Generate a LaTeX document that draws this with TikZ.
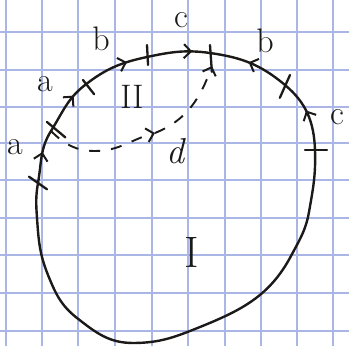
\documentclass[tikz,border=0pt]{standalone}
\usetikzlibrary{arrows.meta,decorations.markings}
\definecolor{ink}{HTML}{1C1A18}
\definecolor{gridblue}{HTML}{A9B6E6}
\tikzset{
  chev/.tip={Straight Barb[length=7pt,width=14pt,line width=2pt]},
  curve/.style={ink, line width=2.4pt, line cap=round},
  tickmark/.style={ink, line width=2.3pt, line cap=round},
  dashline/.style={ink, line width=1.9pt, dash pattern=on 11pt off 11pt},
  gridline/.style={gridblue, line width=1.2pt},
  lbl/.style={text=ink, inner sep=0pt, font=\fontsize{34}{34}\selectfont},
  fwd/.style={postaction={decorate}, decoration={markings, mark=at position #1 with {\arrow{chev}}}},
  bwd/.style={postaction={decorate}, decoration={markings, mark=at position #1 with {\arrowreversed{chev}}}},
}
\begin{document}
\begin{tikzpicture}[x=1pt,y=1pt]
\useasboundingbox (0,0) rectangle (349,346);
\fill[white] (0,0) rectangle (349,346);
% grid paper
\foreach \gx in {6,42,78,115,152,188,225,261,297,333}
  \draw[gridline] (\gx,0) -- (\gx,346);
\foreach \gy in {15,53,91,128,166,203,239,276,314}
  \draw[gridline] (0,\gy) -- (349,\gy);
% cut points
\coordinate (T0) at (38,163);
\coordinate (T1) at (51,215);
\coordinate (T2) at (85,261);
\coordinate (T3) at (147,289);
\coordinate (T4) at (210,293);
\coordinate (T5) at (285,261);
\coordinate (T6) at (315,196);
% lower boundary points
\coordinate (B1) at (309,134);
\coordinate (B2) at (291,90);
\coordinate (B4) at (200,19);
\coordinate (B5) at (133,3);
\coordinate (B6) at (77,28);
\coordinate (B7) at (48,71);
\coordinate (B8) at (37,128);
% dashed path points
\coordinate (D1) at (95,195);
\coordinate (D2) at (155,213);
\coordinate (D3) at (212,280);
% boundary
\draw[curve, fwd=0.58] (T0) to[out=80,in=238] (T1);
\draw[curve, fwd=0.73] (T1) to[out=58,in=218] (T2);
\draw[curve, fwd=0.70] (T2) to[out=38,in=192] (T3);
\draw[curve, fwd=0.72] (T3) to[out=12,in=172] (T4);
\draw[curve, bwd=0.48] (T4) to[out=-8,in=140] (T5);
\draw[curve, bwd=0.45] (T5) to[out=-40,in=92] (T6);
\draw[curve] (T6) to[out=-88,in=80] (B1) to[out=-100,in=62] (B2)
  to[out=-118,in=22] (B4) to[out=-158,in=0] (B5)
  to[out=180,in=-38] (B6) to[out=142,in=-68] (B7)
  to[out=112,in=-86] (B8) to[out=94,in=-100] (T0);
% tick marks
\draw[tickmark] (T0) ++(145:11) -- ++(-35:22);
\draw[tickmark] (T1) ++(-4,9) -- ++(-40:24);
\draw[tickmark] (T2) ++(-2,5) -- ++(-52:18);
\draw[tickmark] (T3) ++(0,12) -- ++(-87:20);
\draw[tickmark] (T4) ++(0,8) -- ++(-86:27);
\draw[tickmark] (T5) ++(5,10) -- ++(246:25);
\draw[tickmark] (T6) ++(-10,0) -- ++(0:22);
% dashed cut
\draw[dashline, -{chev}] (T1) to[out=-45,in=180] (D1) to[out=0,in=195] (D2);
\draw[dashline, -{chev}] (D2) to[out=22,in=250] (D3);
% labels
\node[lbl] (la1) at (15,199) {a};
\node[lbl] (la2) at (45,262) {a};
\node[lbl] (lb1) at (101,307) {b};
\node[lbl] (lc1) at (181,326) {c};
\node[lbl] (lb2) at (265,305) {b};
\node[lbl] (lc2) at (337,229) {c};
\node[text=ink, inner sep=0pt, font=\fontsize{34}{34}\selectfont] (lII) at (132,249) {II};
\node[text=ink, inner sep=0pt, font=\fontsize{44}{44}\selectfont] (lI) at (192,94) {I};
\node[text=ink, inner sep=0pt, font=\fontsize{36}{36}\selectfont\itshape] (ld) at (175,195) {d};
\end{tikzpicture}
\end{document}
